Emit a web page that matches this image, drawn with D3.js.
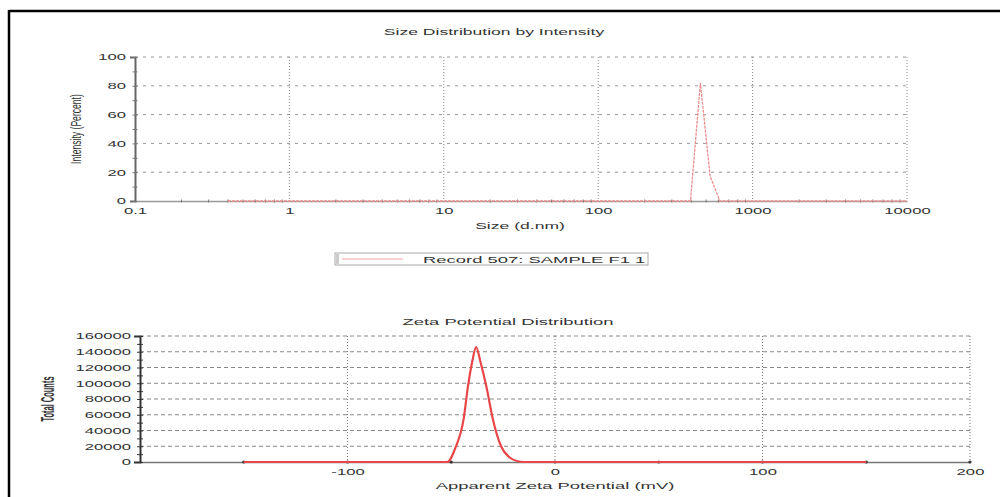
<!DOCTYPE html>
<html>
<head>
<meta charset="utf-8">
<script src="https://cdn.jsdelivr.net/npm/d3@7"></script>
<style>
  body { margin: 0; background: #fff; }
  svg text { font-family: "Liberation Sans", Arial, sans-serif; fill: #333; }
</style>
</head>
<body>
<svg id="chart" width="1000" height="497"></svg>
<script>
// size distribution (d.nm vs intensity %)
const sizeNm = [0.4, 396, 459, 531, 615, 10000];
const sizeIntensity = [0, 0, 82, 17, 0, 0];
const sizeTicks = [0.1, 1, 10, 100, 1000, 10000];
const intensityTicks = [0, 20, 40, 60, 80, 100];

// zeta potential distribution (mV vs counts)
const zetaMv = [-150, -60, -52, -48, -44, -42, -40, -38, -36, -33, -30, -26, -22, -18, -15, 150];
const zetaCounts = [0, 0, 0, 18000, 55000, 95000, 126000, 146000, 128000, 95000, 55000, 20000, 6000, 1000, 0, 0];
const zetaTicks = [-100, 0, 100, 200];
const countTicks = [0, 20000, 40000, 60000, 80000, 100000, 120000, 140000, 160000];

const legendLabel = 'Record 507: SAMPLE F1 1';

// the source picture is stretched sideways, so text is too
const SX = 1.95;

const svg = d3.select('#chart');

function label(x, y, str, size, opts = {}) {
    const rot = opts.rotate ? ' rotate(-90)' : '';
    return svg.append('text')
        .attr('transform', `translate(${x},${y}) scale(${opts.sx || SX},1)${rot}`)
        .attr('text-anchor', opts.anchor || 'middle')
        .attr('font-size', size)
        .attr('font-weight', opts.bold ? 'bold' : null)
        .text(str);
}

function stretchTicks(g, left) {
    g.selectAll('.tick text')
        .attr('font-size', 9).attr('fill', '#444')
        .attr('transform', `scale(${SX * 0.95},1)`)
        .each(function () {
            if (left) {
                const t = d3.select(this);
                t.attr('x', +t.attr('x') / (SX * 0.95));
            }
        });
}

// frame (only top and left visible)
svg.append('line').attr('x1', 9).attr('x2', 1000).attr('y1', 11).attr('y2', 11)
    .attr('stroke', '#000').attr('stroke-width', 2.5);
svg.append('line').attr('x1', 9).attr('x2', 9).attr('y1', 10).attr('y2', 497)
    .attr('stroke', '#000').attr('stroke-width', 2.5);

// ---------- top chart ----------
const x1 = d3.scaleLog().domain([0.1, 10000]).range([135, 907]);
const y1 = d3.scaleLinear().domain([0, 100]).range([201, 57]);

label(494, 35, 'Size Distribution by Intensity', 9);

// horizontal grid
svg.append('g').selectAll('line').data(intensityTicks.slice(1)).enter()
    .append('line')
    .attr('x1', 135).attr('x2', 907)
    .attr('y1', d => y1(d)).attr('y2', d => y1(d))
    .attr('stroke', '#999').attr('stroke-dasharray', '3,5');

// vertical grid
svg.append('g').selectAll('line').data(sizeTicks.slice(1)).enter()
    .append('line')
    .attr('x1', d => x1(d)).attr('x2', d => x1(d))
    .attr('y1', 57).attr('y2', 201)
    .attr('stroke', '#888').attr('stroke-dasharray', '1,2');

const xAxis1 = d3.axisBottom(x1).tickValues(sizeTicks).tickSize(0).tickPadding(7)
    .tickFormat(d3.format('~g'));
svg.append('g').attr('transform', 'translate(0,201)').call(xAxis1)
    .call(g => g.select('.domain').attr('stroke', '#999').attr('stroke-width', 1.5))
    .call(g => stretchTicks(g, false));

// minor log ticks on the baseline
const minor1 = x1.ticks().filter(d => !sizeTicks.includes(d));
svg.append('g').selectAll('line').data(minor1).enter()
    .append('line')
    .attr('x1', d => x1(d)).attr('x2', d => x1(d))
    .attr('y1', 199.5).attr('y2', 202.5)
    .attr('stroke', '#777').attr('stroke-width', 1);

const yAxis1 = d3.axisLeft(y1).tickValues(d3.range(0, 101, 10)).tickSize(5).tickPadding(4)
    .tickFormat(d => d % 20 === 0 ? d : '');
svg.append('g').attr('transform', 'translate(135,0)').call(yAxis1)
    .call(g => g.select('.domain').attr('stroke', '#666').attr('stroke-width', 2))
    .call(g => g.selectAll('.tick line').attr('stroke', '#777').attr('transform', 'translate(2.5,0)'))
    .call(g => stretchTicks(g, true));

label(81, 129, 'Intensity (Percent)', 8.6, { rotate: true, sx: 1.6 });
label(520, 229, 'Size (d.nm)', 9);

const line1 = d3.line().x((d, i) => x1(sizeNm[i])).y(d => y1(d));
svg.append('path').datum(sizeIntensity)
    .attr('d', line1).attr('fill', 'none')
    .attr('stroke', '#ee8d8d').attr('stroke-width', 1.3).attr('stroke-dasharray', '3,1');

// legend
svg.append('rect').attr('x', 335).attr('y', 253).attr('width', 313).attr('height', 12)
    .attr('fill', '#fff').attr('stroke', '#aaa').attr('stroke-width', 1);
svg.append('rect').attr('x', 336).attr('y', 254).attr('width', 3).attr('height', 10).attr('fill', '#ccc');
svg.append('line').attr('x1', 342).attr('x2', 403).attr('y1', 259).attr('y2', 259)
    .attr('stroke', '#f0a0a0').attr('stroke-width', 1);
label(423, 263, legendLabel, 9, { anchor: 'start', sx: 2.05 });

// ---------- bottom chart ----------
const x2 = d3.scaleLinear().domain([-200, 200]).range([140, 970]);
const y2 = d3.scaleLinear().domain([0, 160000]).range([462, 336]);

label(508, 325, 'Zeta Potential Distribution', 9, { sx: 2.05 });

svg.append('g').selectAll('line').data(countTicks.slice(1)).enter()
    .append('line')
    .attr('x1', 140).attr('x2', 970)
    .attr('y1', d => y2(d)).attr('y2', d => y2(d))
    .attr('stroke', '#888').attr('stroke-dasharray', '4,3');

svg.append('g').selectAll('line').data(zetaTicks).enter()
    .append('line')
    .attr('x1', d => x2(d)).attr('x2', d => x2(d))
    .attr('y1', 336).attr('y2', 462)
    .attr('stroke', '#777').attr('stroke-dasharray', '1,2');

const xAxis2 = d3.axisBottom(x2).tickValues(d3.range(-150, 201, 50)).tickSize(0).tickPadding(7)
    .tickFormat(d => d % 100 === 0 ? d : '');
svg.append('g').attr('transform', 'translate(0,462)').call(xAxis2)
    .call(g => g.select('.domain').attr('stroke', '#777').attr('stroke-width', 1.5))
    .call(g => stretchTicks(g, false));
svg.append('g').selectAll('circle').data(d3.range(-150, 201, 50)).enter()
    .append('circle').attr('cx', d => x2(d)).attr('cy', 462).attr('r', 1.6).attr('fill', '#333');

const yAxis2 = d3.axisLeft(y2).tickValues(d3.range(0, 160001, 10000)).tickSize(6).tickPadding(3)
    .tickFormat(d => d % 20000 === 0 ? d : '');
svg.append('g').attr('transform', 'translate(140,0)').call(yAxis2)
    .call(g => g.select('.domain').attr('stroke', '#333').attr('stroke-width', 2))
    .call(g => g.selectAll('.tick line').attr('stroke', '#333').attr('transform', 'translate(3,0)'))
    .call(g => stretchTicks(g, true));

label(54, 399, 'Total Counts', 7.5, { rotate: true, bold: true, sx: 2.4 });
label(555, 489, 'Apparent Zeta Potential (mV)', 9, { sx: 2.05 });

const line2 = d3.line().x((d, i) => x2(zetaMv[i])).y(d => y2(d)).curve(d3.curveMonotoneX);
svg.append('path').datum(zetaCounts)
    .attr('d', line2).attr('fill', 'none')
    .attr('stroke', '#e8474a').attr('stroke-width', 2.2);
</script>
</body>
</html>
